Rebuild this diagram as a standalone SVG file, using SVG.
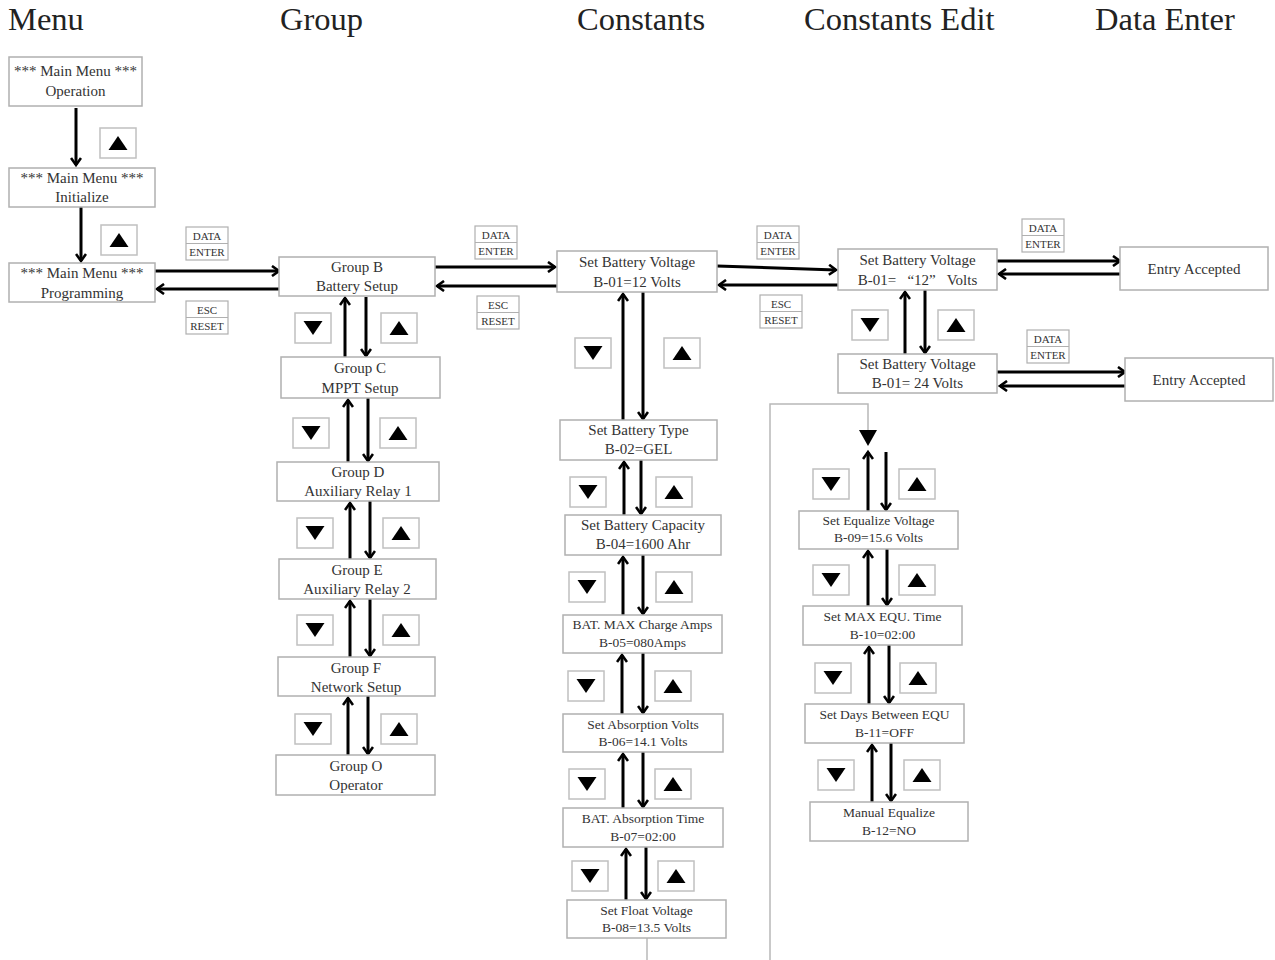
<svg xmlns="http://www.w3.org/2000/svg" xmlns:xlink="http://www.w3.org/1999/xlink" width="1275" height="960" viewBox="0 0 1275 960">
<style>
.hdr{font-family:"Liberation Serif",serif;font-size:32.5px;fill:#222}
.box{fill:#fff;stroke:#b0b0b0;stroke-width:1.5}
.t{font-family:"Liberation Serif",serif;font-size:15px;fill:#333;text-anchor:middle}
.ts{font-family:"Liberation Serif",serif;font-size:13.5px;fill:#333;text-anchor:middle}
.k{font-family:"Liberation Serif",serif;font-size:11px;fill:#333;text-anchor:middle}
.kb{fill:#fff;stroke:#b0b0b0;stroke-width:1.2}
.btn{fill:#fff;stroke:#c0c0c0;stroke-width:1.5}
.c{fill:none;stroke:#000;stroke-width:3;marker-end:url(#ah)}
.g{fill:none;stroke:#b8b8b8;stroke-width:1.5}
</style>
<defs>
<marker id="ah" markerWidth="12" markerHeight="12" refX="9" refY="6" orient="auto" markerUnits="userSpaceOnUse">
<path d="M2,1 L9,6 L2,11" fill="none" stroke="#000" stroke-width="2.6"/>
</marker>
<g id="up"><rect class="btn" x="0" y="0" width="36" height="30"/><polygon points="18,8 8.5,22 27.5,22" fill="#000"/></g>
<g id="dn"><rect class="btn" x="0" y="0" width="36" height="30"/><polygon points="8.5,8 27.5,8 18,22" fill="#000"/></g>
<g id="de"><rect class="kb" x="0" y="0" width="42" height="33"/><line x1="0" y1="16.5" x2="42" y2="16.5" stroke="#b0b0b0" stroke-width="1"/><text class="k" x="21" y="13">DATA</text><text class="k" x="21" y="29">ENTER</text></g>
<g id="er"><rect class="kb" x="0" y="0" width="42" height="33"/><line x1="0" y1="16.5" x2="42" y2="16.5" stroke="#b0b0b0" stroke-width="1"/><text class="k" x="21" y="13">ESC</text><text class="k" x="21" y="29">RESET</text></g>
</defs>
<rect width="1275" height="960" fill="#fff"/>

<g id="headers">
<text class="hdr" x="8" y="30">Menu</text>
<text class="hdr" x="280" y="30">Group</text>
<text class="hdr" x="577" y="30">Constants</text>
<text class="hdr" x="804" y="30">Constants Edit</text>
<text class="hdr" x="1095" y="30">Data Enter</text>
</g>

<g id="connectors">
<line class="c" x1="76" y1="108" x2="76" y2="165"/>
<line class="c" x1="81" y1="207" x2="81" y2="261"/>
<line class="c" x1="155" y1="271" x2="279" y2="271"/>
<line class="c" x1="279" y1="289" x2="157" y2="289"/>
<line class="c" x1="345" y1="357" x2="345" y2="298"/>
<line class="c" x1="366" y1="297" x2="366" y2="356"/>
<line class="c" x1="348" y1="462" x2="348" y2="400"/>
<line class="c" x1="368" y1="398" x2="368" y2="461"/>
<line class="c" x1="350" y1="559" x2="350" y2="503"/>
<line class="c" x1="370" y1="501" x2="370" y2="558"/>
<line class="c" x1="350" y1="657" x2="350" y2="601"/>
<line class="c" x1="370" y1="599" x2="370" y2="656"/>
<line class="c" x1="348" y1="755" x2="348" y2="698"/>
<line class="c" x1="368" y1="696" x2="368" y2="754"/>
<line class="c" x1="435" y1="267" x2="555" y2="267"/>
<line class="c" x1="557" y1="286" x2="437" y2="286"/>
<line class="c" x1="623" y1="420" x2="623" y2="294"/>
<line class="c" x1="643" y1="292" x2="643" y2="419"/>
<line class="c" x1="624" y1="515" x2="624" y2="462"/>
<line class="c" x1="641" y1="460" x2="641" y2="514"/>
<line class="c" x1="623" y1="615" x2="623" y2="557"/>
<line class="c" x1="643" y1="555" x2="643" y2="614"/>
<line class="c" x1="622" y1="714" x2="622" y2="655"/>
<line class="c" x1="643" y1="653" x2="643" y2="713"/>
<line class="c" x1="623" y1="808" x2="623" y2="754"/>
<line class="c" x1="643" y1="752" x2="643" y2="807"/>
<line class="c" x1="626" y1="900" x2="626" y2="849"/>
<line class="c" x1="646" y1="847" x2="646" y2="899"/>
<line class="c" x1="717" y1="266" x2="836" y2="270"/>
<line class="c" x1="838" y1="285" x2="719" y2="285"/>
<line class="c" x1="905" y1="354" x2="905" y2="292"/>
<line class="c" x1="925" y1="290" x2="925" y2="353"/>
<line class="c" x1="997" y1="261" x2="1120" y2="261"/>
<line class="c" x1="1120" y1="274" x2="999" y2="274"/>
<line class="c" x1="997" y1="372" x2="1125" y2="372"/>
<line class="c" x1="1125" y1="386" x2="1000" y2="386"/>
<polyline class="g" points="647,938 647,960"/>
<polyline class="g" points="770,960 770,404 868,404 868,430"/>
<polygon points="859,430 877,430 868,446" fill="#000"/>
<line class="c" x1="868" y1="511" x2="868" y2="452"/>
<line class="c" x1="886" y1="452" x2="886" y2="510"/>
<line class="c" x1="868" y1="606" x2="868" y2="551"/>
<line class="c" x1="887" y1="549" x2="887" y2="605"/>
<line class="c" x1="869" y1="704" x2="869" y2="647"/>
<line class="c" x1="889" y1="645" x2="889" y2="703"/>
<line class="c" x1="872" y1="802" x2="872" y2="745"/>
<line class="c" x1="891" y1="743" x2="891" y2="801"/>
</g>

<g id="keys">
<use xlink:href="#up" x="100" y="128"/>
<use xlink:href="#up" x="101" y="225"/>
<use xlink:href="#de" x="186" y="227"/>
<use xlink:href="#er" x="186" y="301"/>
<use xlink:href="#dn" x="295" y="313"/><use xlink:href="#up" x="381" y="313"/>
<use xlink:href="#dn" x="293" y="418"/><use xlink:href="#up" x="380" y="418"/>
<use xlink:href="#dn" x="297" y="518"/><use xlink:href="#up" x="383" y="518"/>
<use xlink:href="#dn" x="297" y="615"/><use xlink:href="#up" x="383" y="615"/>
<use xlink:href="#dn" x="295" y="714"/><use xlink:href="#up" x="381" y="714"/>
<use xlink:href="#de" x="475" y="226"/>
<use xlink:href="#er" x="477" y="296"/>
<use xlink:href="#dn" x="575" y="338"/><use xlink:href="#up" x="664" y="338"/>
<use xlink:href="#dn" x="570" y="477"/><use xlink:href="#up" x="656" y="477"/>
<use xlink:href="#dn" x="569" y="572"/><use xlink:href="#up" x="656" y="572"/>
<use xlink:href="#dn" x="568" y="671"/><use xlink:href="#up" x="655" y="671"/>
<use xlink:href="#dn" x="569" y="769"/><use xlink:href="#up" x="655" y="769"/>
<use xlink:href="#dn" x="572" y="861"/><use xlink:href="#up" x="658" y="861"/>
<use xlink:href="#de" x="757" y="226"/>
<use xlink:href="#er" x="760" y="295"/>
<use xlink:href="#dn" x="852" y="310"/><use xlink:href="#up" x="938" y="310"/>
<use xlink:href="#de" x="1022" y="219"/>
<use xlink:href="#de" x="1027" y="330"/>
<use xlink:href="#dn" x="813" y="469"/><use xlink:href="#up" x="899" y="469"/>
<use xlink:href="#dn" x="813" y="565"/><use xlink:href="#up" x="899" y="565"/>
<use xlink:href="#dn" x="815" y="663"/><use xlink:href="#up" x="900" y="663"/>
<use xlink:href="#dn" x="818" y="760"/><use xlink:href="#up" x="904" y="760"/>
</g>

<g id="mm-operation"><rect class="box" x="9" y="57" width="133" height="49"/><text class="t" x="75.5" y="76">*** Main Menu ***</text><text class="t" x="75.5" y="96">Operation</text></g>
<g id="mm-initialize"><rect class="box" x="9" y="168" width="146" height="39"/><text class="t" x="82" y="183">*** Main Menu ***</text><text class="t" x="82" y="202">Initialize</text></g>
<g id="mm-programming"><rect class="box" x="9" y="263" width="146" height="39"/><text class="t" x="82" y="278">*** Main Menu ***</text><text class="t" x="82" y="298">Programming</text></g>

<g id="grp-b"><rect class="box" x="279" y="257" width="156" height="39"/><text class="t" x="357" y="272">Group B</text><text class="t" x="357" y="291">Battery Setup</text></g>
<g id="grp-c"><rect class="box" x="281" y="357" width="159" height="41"/><text class="t" x="360" y="373">Group C</text><text class="t" x="360" y="393">MPPT Setup</text></g>
<g id="grp-d"><rect class="box" x="277" y="462" width="162" height="39"/><text class="t" x="358" y="477">Group D</text><text class="t" x="358" y="496">Auxiliary Relay 1</text></g>
<g id="grp-e"><rect class="box" x="279" y="559" width="157" height="40"/><text class="t" x="357" y="575">Group E</text><text class="t" x="357" y="594">Auxiliary Relay 2</text></g>
<g id="grp-f"><rect class="box" x="278" y="657" width="157" height="39"/><text class="t" x="356" y="673">Group F</text><text class="t" x="356" y="692">Network Setup</text></g>
<g id="grp-o"><rect class="box" x="276" y="755" width="159" height="40"/><text class="t" x="356" y="771">Group O</text><text class="t" x="356" y="790">Operator</text></g>

<g id="c-b01"><rect class="box" x="557" y="251" width="160" height="41"/><text class="t" x="637" y="267">Set Battery Voltage</text><text class="t" x="637" y="287">B-01=12 Volts</text></g>
<g id="c-b02"><rect class="box" x="560" y="420" width="157" height="40"/><text class="t" x="638.5" y="435">Set Battery Type</text><text class="t" x="638.5" y="454">B-02=GEL</text></g>
<g id="c-b04"><rect class="box" x="565" y="515" width="156" height="40"/><text class="t" x="643" y="530">Set Battery Capacity</text><text class="t" x="643" y="549">B-04=1600 Ahr</text></g>
<g id="c-b05"><rect class="box" x="563" y="615" width="159" height="38"/><text class="ts" x="642.5" y="629">BAT. MAX Charge Amps</text><text class="ts" x="642.5" y="647">B-05=080Amps</text></g>
<g id="c-b06"><rect class="box" x="563" y="714" width="160" height="38"/><text class="ts" x="643" y="729">Set Absorption Volts</text><text class="ts" x="643" y="746">B-06=14.1 Volts</text></g>
<g id="c-b07"><rect class="box" x="563" y="808" width="160" height="39"/><text class="ts" x="643" y="823">BAT. Absorption Time</text><text class="ts" x="643" y="841">B-07=02:00</text></g>
<g id="c-b08"><rect class="box" x="567" y="900" width="159" height="38"/><text class="ts" x="646.5" y="915">Set Float Voltage</text><text class="ts" x="646.5" y="932">B-08=13.5 Volts</text></g>

<g id="e-b01-12"><rect class="box" x="838" y="249" width="159" height="41"/><text class="t" x="917.5" y="265">Set Battery Voltage</text><text class="t" x="917.5" y="285" xml:space="preserve">B-01=   “12”   Volts</text></g>
<g id="e-b01-24"><rect class="box" x="838" y="354" width="159" height="39"/><text class="t" x="917.5" y="369">Set Battery Voltage</text><text class="t" x="917.5" y="388">B-01= 24 Volts</text></g>
<g id="d-accepted-1"><rect class="box" x="1120" y="247" width="148" height="43"/><text class="t" x="1194" y="274">Entry Accepted</text></g>
<g id="d-accepted-2"><rect class="box" x="1125" y="358" width="148" height="43"/><text class="t" x="1199" y="385">Entry Accepted</text></g>

<g id="e-b09"><rect class="box" x="799" y="511" width="159" height="38"/><text class="ts" x="878.5" y="525">Set Equalize Voltage</text><text class="ts" x="878.5" y="542">B-09=15.6 Volts</text></g>
<g id="e-b10"><rect class="box" x="803" y="606" width="159" height="39"/><text class="ts" x="882.5" y="621">Set MAX EQU. Time</text><text class="ts" x="882.5" y="639">B-10=02:00</text></g>
<g id="e-b11"><rect class="box" x="805" y="704" width="159" height="39"/><text class="ts" x="884.5" y="719">Set Days Between EQU</text><text class="ts" x="884.5" y="737">B-11=OFF</text></g>
<g id="e-b12"><rect class="box" x="810" y="802" width="158" height="39"/><text class="ts" x="889" y="817">Manual Equalize</text><text class="ts" x="889" y="835">B-12=NO</text></g>
</svg>
